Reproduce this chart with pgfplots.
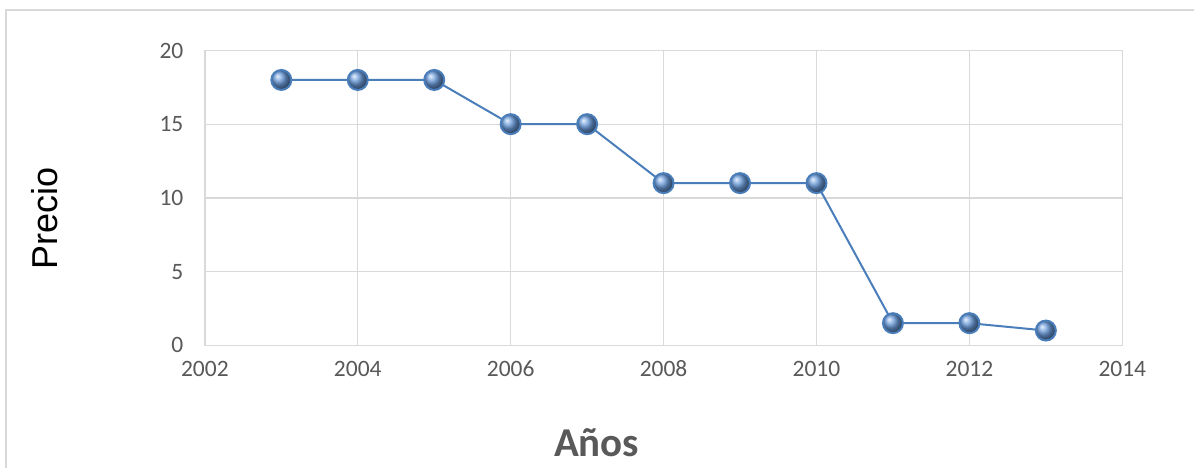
\documentclass[border=0pt]{standalone}
\usepackage{fontspec}
\setmainfont{Carlito}
\newfontfamily\arialfont{Liberation Sans}
\usepackage{pgfplots}
\pgfplotsset{compat=1.18}
\definecolor{gridgray}{HTML}{D9D9D9}
\definecolor{txtgray}{HTML}{595959}
\definecolor{lineblue}{HTML}{4A7EBB}
\definecolor{ballblue}{HTML}{6A9BDA}
\begin{document}
\begin{tikzpicture}[x=1pt,y=1pt]
\fill[white] (0,0) rectangle (1195,468);
\draw[gridgray, line width=1.5pt] (6,0) -- (6,458) -- (1195,458);
\begin{axis}[
  at={(205pt,122.5pt)}, anchor=south west,
  scale only axis, width=918pt, height=295pt,
  xmin=2002, xmax=2014, ymin=0, ymax=20,
  xtick={2002,2004,...,2014}, ytick={0,5,...,20},
  grid=major, major grid style={gridgray, line width=1.3pt},
  axis line style={gridgray, line width=1.3pt},
  tick style={draw=none},
  /pgf/number format/1000 sep={},
  /pgf/number format/assume math mode=true,
  ticklabel style={font=\fontsize{23.5}{26}\selectfont, text=txtgray},
  xticklabel style={yshift=-12pt},
  yticklabel style={xshift=-18pt},
  clip=false,
]
\addplot[lineblue, line width=2pt, mark=ball, mark size=10pt, mark options={ball color=ballblue}]
coordinates {(2003,18) (2004,18) (2005,18) (2006,15) (2007,15) (2008,11) (2009,11) (2010,11) (2011,1.5) (2012,1.5) (2013,1)};
\end{axis}
\node[rotate=90, anchor=base, font=\arialfont\fontsize{36}{40}\selectfont] at (58pt,249pt) {Precio};
\node[anchor=base, font=\fontsize{41}{46}\selectfont\bfseries, text=txtgray] at (597pt,11pt) {Años};
\end{tikzpicture}
\end{document}
